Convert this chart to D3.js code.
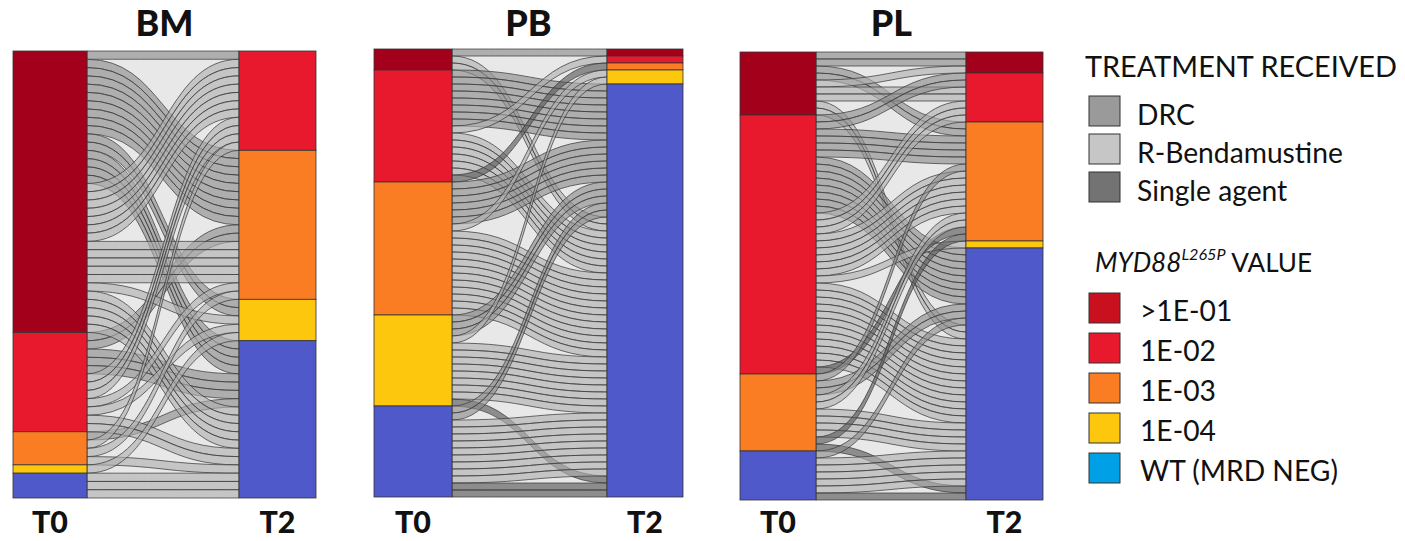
<!DOCTYPE html>
<html>
<head>
<meta charset="utf-8">
<script src="https://cdn.jsdelivr.net/npm/d3@7"></script>
<style>
  body { margin: 0; background: #fff; }
  svg { display: block; }
</style>
</head>
<body>
<div id="chart"></div>
<script>
// MYD88 levels, top to bottom
const levels = ['>1E-01', '1E-02', '1E-03', '1E-04', 'NEG'];
const levelColors = ['#a3001b', '#e8192c', '#fa7d23', '#fdc70d', '#5059c9'];
const treatments = ['DRC', 'R-Bendamustine', 'Single agent'];
const treatmentColors = ['#8a8a8a', '#b0b0b0', '#555555'];
const legendLevels = ['>1E-01', '1E-02', '1E-03', '1E-04', 'WT (MRD NEG)'];
const legendLevelColors = ['#c8101f', '#e8192c', '#fa7d23', '#fdc70d', '#00a0e6'];
const legendTreatmentColors = ['#9a9a9a', '#c6c6c6', '#737373'];
const panels = ['BM', 'PB', 'PL'];
const timepoints = ['T0', 'T2'];

// [T0 level, T2 level, treatment, patients]
const bmFlows = [
  ['>1E-01', '1E-02', 'DRC', 1], ['>1E-01', '1E-03', 'DRC', 9], ['>1E-01', '1E-04', 'DRC', 2], ['>1E-01', 'NEG', 'DRC', 4],
  ['1E-02', '1E-03', 'DRC', 2], ['1E-02', 'NEG', 'DRC', 3], ['1E-03', 'NEG', 'DRC', 1],
  ['>1E-01', '1E-02', 'R-Bendamustine', 7], ['>1E-01', '1E-03', 'R-Bendamustine', 5], ['>1E-01', '1E-04', 'R-Bendamustine', 1], ['>1E-01', 'NEG', 'R-Bendamustine', 5],
  ['1E-02', '1E-02', 'R-Bendamustine', 3], ['1E-02', '1E-03', 'R-Bendamustine', 1], ['1E-02', '1E-04', 'R-Bendamustine', 1], ['1E-02', 'NEG', 'R-Bendamustine', 2],
  ['1E-03', '1E-02', 'R-Bendamustine', 1], ['1E-03', '1E-03', 'R-Bendamustine', 1], ['1E-03', 'NEG', 'R-Bendamustine', 1],
  ['1E-04', '1E-04', 'R-Bendamustine', 1], ['NEG', 'NEG', 'R-Bendamustine', 3]
];
const pbFlows = [
  ['>1E-01', '>1E-01', 'DRC', 1], ['>1E-01', 'NEG', 'R-Bendamustine', 2],
  ['1E-02', 'NEG', 'DRC', 8], ['1E-02', '1E-02', 'R-Bendamustine', 1], ['1E-02', 'NEG', 'R-Bendamustine', 6], ['1E-02', '1E-03', 'Single agent', 1],
  ['1E-03', 'NEG', 'DRC', 6], ['1E-03', '1E-04', 'R-Bendamustine', 1], ['1E-03', 'NEG', 'R-Bendamustine', 12],
  ['1E-04', 'NEG', 'DRC', 3], ['1E-04', '1E-04', 'R-Bendamustine', 1], ['1E-04', 'NEG', 'R-Bendamustine', 8], ['1E-04', 'NEG', 'Single agent', 1],
  ['NEG', 'NEG', 'DRC', 2], ['NEG', 'NEG', 'R-Bendamustine', 9], ['NEG', 'NEG', 'Single agent', 2]
];
const plFlows = [
  ['>1E-01', '>1E-01', 'DRC', 2], ['>1E-01', '1E-03', 'DRC', 2], ['>1E-01', '>1E-01', 'R-Bendamustine', 1], ['>1E-01', '1E-02', 'R-Bendamustine', 2], ['>1E-01', 'NEG', 'R-Bendamustine', 2],
  ['1E-02', '1E-02', 'DRC', 2], ['1E-02', '1E-03', 'DRC', 4], ['1E-02', 'NEG', 'DRC', 8],
  ['1E-02', '1E-02', 'R-Bendamustine', 3], ['1E-02', '1E-03', 'R-Bendamustine', 6], ['1E-02', '1E-04', 'R-Bendamustine', 1], ['1E-02', 'NEG', 'R-Bendamustine', 12], ['1E-02', '1E-03', 'Single agent', 1],
  ['1E-03', '1E-03', 'DRC', 1], ['1E-03', 'NEG', 'DRC', 2], ['1E-03', '1E-03', 'R-Bendamustine', 2], ['1E-03', 'NEG', 'R-Bendamustine', 4], ['1E-03', '1E-03', 'Single agent', 1], ['1E-03', 'NEG', 'Single agent', 1],
  ['NEG', 'NEG', 'DRC', 1], ['NEG', 'NEG', 'R-Bendamustine', 5], ['NEG', 'NEG', 'Single agent', 1]
];
const allFlows = [bmFlows, pbFlows, plFlows];

// bar edges: T0 left, T0 right, T2 left, T2 right / top, bottom
const layout = {
  BM: { x: [13, 87, 239, 316], y: [51, 498] },
  PB: { x: [374, 452, 607, 683], y: [49, 497] },
  PL: { x: [740, 816, 966, 1043], y: [52, 500] }
};

const width = 1405, height = 541;
const font = 'Lato, "Open Sans", sans-serif';

const svg = d3.select('#chart')
  .append('svg')
  .attr('width', width)
  .attr('height', height);

const levelFill = d3.scaleOrdinal(levels, levelColors);
const treatFill = d3.scaleOrdinal(treatments, treatmentColors);
const rank = d => levels.indexOf(d);
const trank = d => treatments.indexOf(d);

// font size that makes a string a given width
function fitSize(str, weight, target) {
  const t = svg.append('text').attr('font-family', font).attr('font-weight', weight)
    .attr('font-size', 100).text(str);
  const w = t.node().getComputedTextLength();
  t.remove();
  return 100 * target / w;
}

panels.forEach((p, pi) => {
  const L = layout[p];
  const pts = [];
  allFlows[pi].forEach(f => {
    for (let i = 0; i < f[3]; i++) pts.push({ t0: f[0], t2: f[1], tr: f[2] });
  });
  const n = pts.length;
  const y = d3.scaleLinear().domain([0, n]).range(L.y);

  pts.slice()
    .sort((a, b) => rank(a.t0) - rank(b.t0) || trank(a.tr) - trank(b.tr) || rank(a.t2) - rank(b.t2))
    .forEach((d, i) => d.i0 = i);
  pts.slice()
    .sort((a, b) => rank(a.t2) - rank(b.t2) || trank(a.tr) - trank(b.tr) || rank(a.t0) - rank(b.t0) || a.i0 - b.i0)
    .forEach((d, i) => d.i2 = i);

  const g = svg.append('g');
  const xa = L.x[1], xb = L.x[2], xm = (xa + xb) / 2;

  g.append('rect')
    .attr('x', xa).attr('y', L.y[0])
    .attr('width', xb - xa).attr('height', L.y[1] - L.y[0])
    .attr('fill', '#e8e8e8');

  const ribbon = d => {
    const a0 = y(d.i0), a1 = y(d.i0 + 1), b0 = y(d.i2), b1 = y(d.i2 + 1);
    return `M${xa},${a0}C${xm},${a0} ${xm},${b0} ${xb},${b0}L${xb},${b1}C${xm},${b1} ${xm},${a1} ${xa},${a1}Z`;
  };

  g.selectAll('path.flow')
    .data(pts)
    .join('path')
    .attr('class', 'flow')
    .attr('d', ribbon)
    .attr('fill', d => treatFill(d.tr))
    .attr('fill-opacity', 0.62)
    .attr('stroke', '#3c3c3c')
    .attr('stroke-opacity', 0.75)
    .attr('stroke-width', 1);

  // stacked strata
  timepoints.forEach((tp, ti) => {
    const key = ti === 0 ? 't0' : 't2';
    const counts = d3.rollup(pts, v => v.length, d => d[key]);
    let start = 0;
    const segs = [];
    levels.forEach(l => {
      const c = counts.get(l) || 0;
      if (c > 0) segs.push({ level: l, start, end: start + c });
      start += c;
    });
    const x0 = L.x[ti * 2], x1 = L.x[ti * 2 + 1];
    g.selectAll('rect.seg' + ti)
      .data(segs)
      .join('rect')
      .attr('class', 'seg' + ti)
      .attr('x', x0)
      .attr('y', d => y(d.start))
      .attr('width', x1 - x0)
      .attr('height', d => y(d.end) - y(d.start))
      .attr('fill', d => levelFill(d.level))
      .attr('stroke', '#333')
      .attr('stroke-width', 0.8);

    g.append('text')
      .attr('x', (x0 + x1) / 2)
      .attr('y', 533)
      .attr('text-anchor', 'middle')
      .attr('font-family', font)
      .attr('font-weight', 900)
      .attr('font-size', fitSize('T0', 900, 36))
      .attr('fill', '#111')
      .text(tp);
  });

  g.append('text')
    .attr('x', (L.x[0] + L.x[3]) / 2)
    .attr('y', 36)
    .attr('text-anchor', 'middle')
    .attr('font-family', font)
    .attr('font-weight', 900)
    .attr('font-size', fitSize('BM', 900, 58))
    .attr('fill', '#111')
    .text(p);
});

// legend
const itemSize = fitSize('R-Bendamustine', 400, 206);
const lg = svg.append('g').attr('font-family', font).attr('fill', '#111');

lg.append('text')
  .attr('x', 1085).attr('y', 77)
  .attr('font-size', fitSize('TREATMENT RECEIVED', 400, 312))
  .text('TREATMENT RECEIVED');

treatments.forEach((t, i) => {
  const top = 96 + i * 38;
  lg.append('rect')
    .attr('x', 1089).attr('y', top).attr('width', 31).attr('height', 30)
    .attr('fill', legendTreatmentColors[i]).attr('stroke', '#333').attr('stroke-width', 1);
  lg.append('text')
    .attr('x', 1137).attr('y', top + 29)
    .attr('font-size', itemSize)
    .text(t);
});

const myd = lg.append('text')
  .attr('x', 1095).attr('y', 272)
  .attr('font-size', fitSize('MYD88L265P VALUE', 400, 251));
myd.append('tspan').attr('font-style', 'italic').text('MYD88');
myd.append('tspan').attr('font-style', 'italic').attr('font-size', '62%').attr('dy', '-0.75em').text('L265P');
myd.append('tspan').attr('dy', '0.47em').text(' VALUE');

legendLevels.forEach((l, i) => {
  const top = 293 + i * 40;
  lg.append('rect')
    .attr('x', 1089).attr('y', top).attr('width', 31).attr('height', 30)
    .attr('fill', legendLevelColors[i]).attr('stroke', '#333').attr('stroke-width', 1);
  lg.append('text')
    .attr('x', 1140).attr('y', top + 28)
    .attr('font-size', itemSize)
    .text(l);
});
</script>
</body>
</html>
